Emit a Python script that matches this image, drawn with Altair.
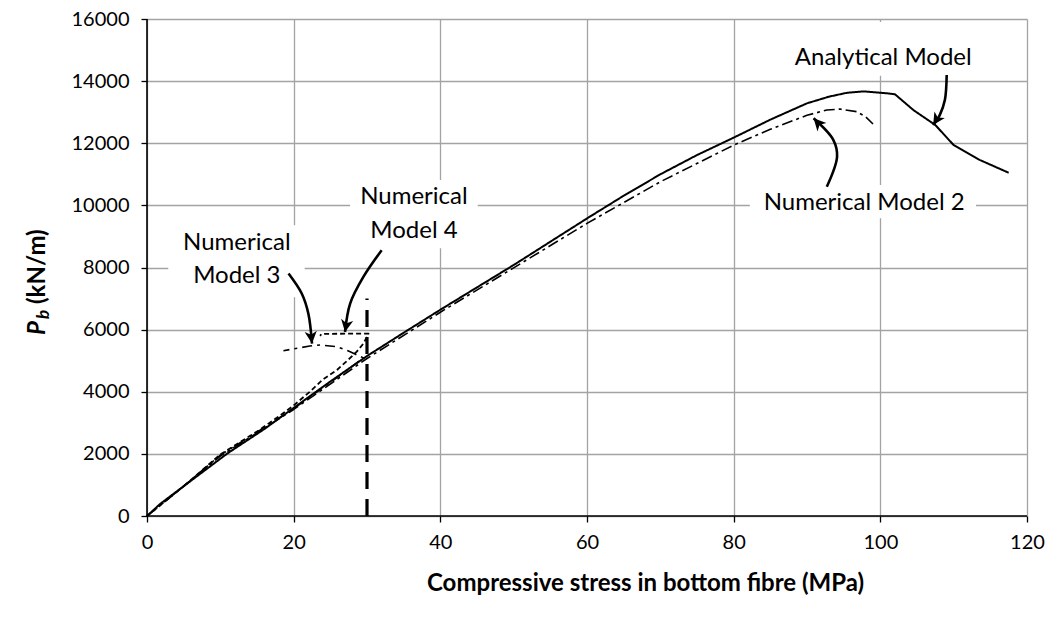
import altair as alt
import pandas as pd

# ---------------- data ----------------
analytical_x = [0, 1.8, 5, 11, 16, 20, 25, 30, 35, 40, 45, 50, 55, 60, 65, 70, 75, 80, 85, 90, 93, 95.5, 97.7, 100.9, 102, 104.5, 107.5, 110, 113.6, 117.5]
analytical_y = [0, 390, 960, 2020, 2800, 3480, 4330, 5150, 5900, 6640, 7360, 8080, 8830, 9580, 10310, 11000, 11620, 12180, 12760, 13285, 13500, 13627, 13670, 13607, 13575, 13070, 12586, 11941, 11458, 11050]

model2_x = [0, 5, 10, 20, 30, 40, 50, 60, 70, 80, 85, 90, 92.7, 94.5, 96.8, 98, 99]
model2_y = [0, 950, 1930, 3430, 5070, 6560, 7990, 9420, 10760, 11940, 12450, 12900, 13070, 13100, 13015, 12850, 12620]

model3_x = [0, 5, 10, 15, 20, 25, 29.5, 28.5, 27.7, 25.9, 23.6, 22.2, 20.5, 18.6]
model3_y = [0, 960, 1960, 2700, 3460, 4300, 5090, 5200, 5290, 5450, 5505, 5472, 5400, 5322]

model4_x = [0, 5, 10, 15, 17.7, 20, 22.2, 24, 25.9, 27.3, 28.6, 29.5, 30, 30.2, 28, 25, 23.8, 23.6]
model4_y = [0, 960, 1980, 2720, 3160, 3560, 4000, 4400, 4700, 5000, 5290, 5550, 5770, 5870, 5870, 5865, 5860, 5800]

limit_x = [30, 30]
limit_y = [0, 7000]

x_ticks = [0, 20, 40, 60, 80, 100, 120]
y_ticks = [0, 2000, 4000, 6000, 8000, 10000, 12000, 14000, 16000]

# annotation labels (one row per text line)
label_text = ["Analytical Model", "Numerical Model 2", "Numerical", "Model 4", "Numerical", "Model 3"]
label_x = [100.4, 97.8, 36.4, 36.4, 12.25, 12.25]
label_y = [14750, 10062, 10275, 9176, 8789, 7725]

# white backgrounds behind labels
box_x1 = [87.0, 82.2, 27.7, 2.9]
box_x2 = [112.9, 113.05, 45.1, 21.5]
box_y1 = [14170, 9588, 8621, 7042]
box_y2 = [15900, 10652, 10813, 9363]

# curved arrows
arrow_id = [1, 1, 1, 1, 2, 2, 2, 2, 3, 3, 3, 3, 4, 4, 4, 4]
arrow_x = [109.05, 108.8, 108.1, 107.2, 92.7, 94.1, 93.6, 90.9, 32.0, 29.5, 27.7, 27.0, 19.3, 21.1, 22.0, 22.5]
arrow_y = [14197, 13391, 12907, 12586, 10597, 11564, 12102, 12802, 8557, 7696, 6839, 5924, 7806, 7162, 6517, 5550]

head_x = [107.2, 90.9, 27.0, 22.5]
head_y = [12586, 12802, 5924, 5550]
head_angle = [212, 317, 190, 174]

FONT = "Lato"

# ---------------- tables ----------------
series = [
    ("Analytical Model", analytical_x, analytical_y, [1, 0], 2.0),
    ("Numerical Model 2", model2_x, model2_y, [11, 4, 3, 4], 1.6),
    ("Numerical Model 3", model3_x, model3_y, [10, 5, 3, 5], 1.6),
    ("Numerical Model 4", model4_x, model4_y, [5, 3], 1.8),
]

x_scale = alt.Scale(domain=[0, 120], nice=False, zero=False)
y_scale = alt.Scale(domain=[0, 16000], nice=False, zero=False)

x_axis = alt.Axis(
    values=x_ticks, format="d", labelFlush=False, labelOverlap=False,
    grid=True, gridColor="#a3a3a3", gridWidth=1.3,
    domain=False, ticks=True, tickColor="black", tickSize=6, tickWidth=1.3,
    labelFont=FONT, labelFontSize=20, labelColor="black", labelPadding=10,
    title="Compressive stress in bottom fibre (MPa)", titleFont=FONT,
    titleFontSize=24, titleFontWeight="bold", titleColor="black",
    titleX=498, titleY=67, titleBaseline="middle", titleAlign="center",
)
y_axis = alt.Axis(
    values=y_ticks, format="d", labelFlush=False, labelOverlap=False,
    grid=True, gridColor="#a3a3a3", gridWidth=1.3,
    domain=False, ticks=True, tickColor="black", tickSize=6, tickWidth=1.3,
    labelFont=FONT, labelFontSize=20, labelColor="black", labelPadding=12,
    title=None,
)


def X(field):
    return alt.X(field, type="quantitative", scale=x_scale, axis=x_axis)


def Y(field):
    return alt.Y(field, type="quantitative", scale=y_scale, axis=y_axis)


layers = []

# white label boxes (drawn over the grid)
boxes = pd.DataFrame({"x": box_x1, "x2": box_x2, "y": box_y1, "y2": box_y2})
layers.append(
    alt.Chart(boxes).mark_rect(color="white", opacity=1).encode(
        x=X("x"), x2="x2:Q", y=Y("y"), y2="y2:Q",
    )
)

for name, xs, ys, dash, w in series:
    df = pd.DataFrame({"x": xs, "y": ys, "idx": list(range(len(xs)))})
    layers.append(
        alt.Chart(df).mark_line(color="black", strokeDash=dash, strokeWidth=w,
                                strokeJoin="round").encode(
            x=X("x"), y=Y("y"), order="idx:Q",
        )
    )

limit = pd.DataFrame({"x": limit_x, "y": limit_y})
layers.append(
    alt.Chart(limit).mark_line(color="black", strokeDash=[17, 10], strokeWidth=3.2).encode(
        x=X("x"), y=Y("y"),
    )
)

arrows = pd.DataFrame({"id": arrow_id, "x": arrow_x, "y": arrow_y,
                       "idx": list(range(len(arrow_x)))})
layers.append(
    alt.Chart(arrows).mark_line(color="black", strokeWidth=2.6, interpolate="catmull-rom").encode(
        x=X("x"), y=Y("y"), detail="id:N", order="idx:Q",
    )
)

heads = pd.DataFrame({"x": head_x, "y": head_y, "a": head_angle})
layers.append(
    alt.Chart(heads).mark_point(
        shape="M0,0L0.5,1L0,0.72L-0.5,1Z", filled=True, color="black",
        opacity=1, size=600, strokeWidth=0,
    ).encode(
        x=X("x"), y=Y("y"), angle=alt.Angle("a:Q", scale=None),
    )
)

labels = pd.DataFrame({"t": label_text, "x": label_x, "y": label_y})
layers.append(
    alt.Chart(labels).mark_text(font=FONT, fontSize=24, color="black",
                                align="center", baseline="middle").encode(
        x=X("x"), y=Y("y"), text="t:N",
    )
)

# axis lines (black) over grid
layers.append(
    alt.Chart(pd.DataFrame({"y": [0]})).mark_rule(color="black", strokeWidth=1.6).encode(
        y=Y("y"), x=alt.value(0), x2=alt.value(880)
    )
)
layers.append(
    alt.Chart(pd.DataFrame({"x": [0]})).mark_rule(color="black", strokeWidth=1.6).encode(
        x=X("x"), y=alt.value(0), y2=alt.value(497)
    )
)

# y-axis title: italic P with subscript b, then (kN/m)
ytitle_parts = ["P", "b", "(kN/m)"]
layers.append(
    alt.Chart(pd.DataFrame({"t": [ytitle_parts[0]]})).mark_text(
        font=FONT, fontSize=24, fontWeight="bold", fontStyle="italic", color="black",
        align="left", baseline="middle", angle=270,
    ).encode(text="t:N", x=alt.value(-109), y=alt.value(316))
)
layers.append(
    alt.Chart(pd.DataFrame({"t": [ytitle_parts[1]]})).mark_text(
        font=FONT, fontSize=17, fontWeight="bold", fontStyle="italic", color="black",
        align="left", baseline="middle", angle=270,
    ).encode(text="t:N", x=alt.value(-103), y=alt.value(300))
)
layers.append(
    alt.Chart(pd.DataFrame({"t": [ytitle_parts[2]]})).mark_text(
        font=FONT, fontSize=24, fontWeight="bold", color="black",
        align="left", baseline="middle", angle=270,
    ).encode(text="t:N", x=alt.value(-109), y=alt.value(285))
)

chart = alt.layer(*layers).properties(
    width=880, height=497,
    autosize=alt.AutoSizeParams(type="none"),
    padding={"left": 147, "top": 19, "right": 35, "bottom": 105},
    background="white",
).configure_view(strokeWidth=0)

chart.save("out.html", embed_options={"renderer": "svg", "actions": False})
